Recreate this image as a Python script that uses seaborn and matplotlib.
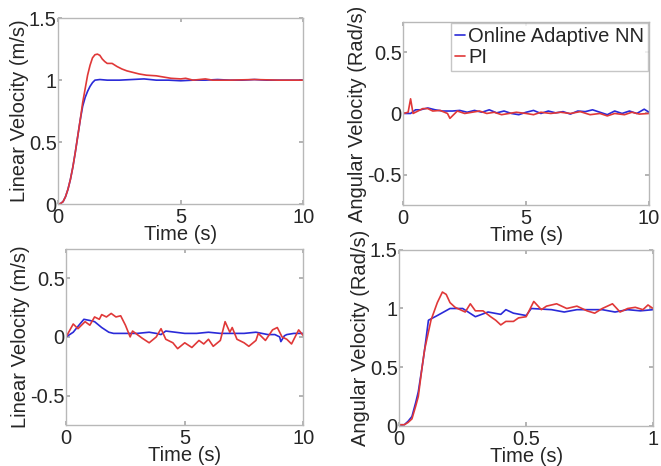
import pandas as pd
import matplotlib
matplotlib.use("Agg")
import matplotlib.pyplot as plt
import seaborn as sns

sns.set_theme(style="white")
plt.rcParams['font.family'] = ['Liberation Sans', 'DejaVu Sans']

NN_COLOR = '#2a2ad8'
PI_COLOR = '#e03838'

# ---- top-left: linear velocity step response (0-10 s)
tl_t_nn = [0, 0.1, 0.2, 0.3, 0.4, 0.5, 0.6, 0.7, 0.8, 0.9, 1.0, 1.1, 1.2, 1.3, 1.4, 1.5,
           1.7, 2.0, 2.5, 3.0, 3.5, 4.0, 4.5, 5.0, 5.5, 6.0, 6.5, 7.0, 7.5, 8.0, 8.5, 9.0, 9.5, 10.0]
tl_v_nn = [0, 0.005, 0.02, 0.06, 0.12, 0.2, 0.3, 0.42, 0.55, 0.68, 0.79, 0.86, 0.91, 0.95, 0.98, 1.0,
           1.005, 1.0, 1.0, 1.005, 1.01, 1.0, 1.0, 0.995, 1.0, 1.0, 1.005, 1.0, 1.0, 1.005, 1.0, 1.0, 1.0, 1.0]
tl_t_pi = [0, 0.1, 0.2, 0.3, 0.4, 0.5, 0.6, 0.7, 0.8, 0.9, 1.0, 1.1, 1.2, 1.3, 1.4, 1.5, 1.6, 1.7,
           1.8, 1.9, 2.0, 2.2, 2.4, 2.6, 2.8, 3.0, 3.3, 3.6, 4.0, 4.3, 4.6, 5.0, 5.2, 5.5, 6.0, 6.3,
           7.0, 8.0, 9.0, 10.0]
tl_v_pi = [0, 0.005, 0.02, 0.06, 0.12, 0.2, 0.3, 0.42, 0.55, 0.68, 0.82, 0.93, 1.04, 1.12, 1.18, 1.205, 1.21, 1.2,
           1.17, 1.15, 1.135, 1.135, 1.11, 1.09, 1.075, 1.065, 1.05, 1.04, 1.035, 1.025, 1.015, 1.01, 1.015, 1.0, 1.01, 1.0,
           1.0, 1.005, 1.0, 1.0]

# ---- top-right: angular velocity (0-10 s)
tr_t_nn = [0, 0.3, 0.5, 0.7, 1.0, 1.3, 1.6, 2.0, 2.3, 2.6, 2.9, 3.2, 3.5, 3.8, 4.1, 4.4, 4.7, 5.0,
           5.3, 5.6, 5.9, 6.2, 6.5, 6.8, 7.1, 7.4, 7.7, 8.0, 8.3, 8.6, 8.9, 9.2, 9.5, 9.8, 10.0]
tr_v_nn = [0, 0.0, 0.03, 0.03, 0.045, 0.03, 0.02, 0.02, 0.025, 0.01, 0.025, 0.01, 0.03, 0.005, 0.02, 0.0, -0.01, 0.01,
           0.025, 0.0, 0.02, 0.005, 0.015, -0.005, 0.02, 0.015, 0.03, 0.01, -0.01, 0.02, 0.0, 0.02, 0.0, 0.035, 0.01]
tr_t_pi = [0, 0.2, 0.3, 0.4, 0.6, 0.8, 1.0, 1.2, 1.5, 1.8, 1.9, 2.0, 2.2, 2.5, 2.8, 3.1, 3.4, 3.7,
           4.0, 4.3, 4.6, 5.0, 5.3, 5.6, 6.0, 6.4, 6.8, 7.2, 7.6, 8.0, 8.3, 8.6, 9.0, 9.3, 9.6, 10.0]
tr_v_pi = [0, 0.01, 0.12, 0.0, 0.02, 0.04, 0.04, 0.02, 0.025, 0.0, -0.04, -0.02, 0.02, 0.0, 0.01, 0.02, 0.0, 0.01,
           -0.01, 0.0, 0.01, 0.0, -0.01, 0.01, 0.0, 0.01, 0.0, 0.015, -0.01, 0.0, -0.02, 0.0, -0.01, 0.01, -0.005, 0.0]

# ---- bottom-left: linear velocity (0-10 s)
bl_t_nn = [0, 0.3, 0.5, 0.75, 1.0, 1.2, 1.5, 1.8, 2.0, 2.5, 3.0, 3.5, 3.8, 4.0, 4.2, 4.6, 5.0, 5.5,
           6.0, 6.5, 7.0, 7.5, 8.0, 8.5, 8.8, 9.0, 9.05, 9.2, 9.3, 9.6, 10.0]
bl_v_nn = [0, 0.04, 0.09, 0.15, 0.14, 0.13, 0.08, 0.04, 0.03, 0.03, 0.03, 0.04, 0.03, 0.02, 0.05, 0.04, 0.03, 0.03,
           0.04, 0.03, 0.03, 0.03, 0.04, 0.02, 0.02, 0.0, -0.04, 0.01, 0.02, 0.03, 0.03]
bl_t_pi = [0, 0.3, 0.5, 0.8, 1.0, 1.2, 1.4, 1.5, 1.7, 1.9, 2.1, 2.3, 2.5, 2.7, 2.8, 3.0, 3.2, 3.5,
           3.8, 4.0, 4.2, 4.5, 4.7, 5.0, 5.3, 5.6, 5.8, 6.0, 6.2, 6.5, 6.7, 6.9, 7.0, 7.2, 7.5, 7.7,
           8.0, 8.1, 8.4, 8.7, 8.9, 9.1, 9.3, 9.5, 9.7, 9.8, 10.0]
bl_v_pi = [0, 0.11, 0.07, 0.13, 0.1, 0.17, 0.15, 0.19, 0.17, 0.2, 0.17, 0.18, 0.1, 0.0, 0.05, 0.02, -0.01, -0.05,
           0.0, 0.07, -0.02, -0.05, -0.1, -0.05, -0.09, -0.03, -0.06, -0.02, -0.08, -0.03, 0.13, 0.04, 0.08, -0.02, -0.05, -0.08,
           -0.03, 0.03, -0.03, 0.06, 0.08, 0.0, -0.02, -0.06, 0.02, 0.06, 0.01]

# ---- bottom-right: angular velocity step response (0-1 s)
br_t_nn = [0, 0.02, 0.035, 0.05, 0.065, 0.075, 0.09, 0.1, 0.115, 0.15, 0.2, 0.25, 0.3, 0.35, 0.4, 0.42,
           0.45, 0.5, 0.52, 0.6, 0.65, 0.7, 0.8, 0.85, 0.9, 0.95, 1.0]
br_v_nn = [0.01, 0.01, 0.04, 0.08, 0.2, 0.29, 0.5, 0.65, 0.9, 0.94, 1.0, 1.0, 0.93, 0.97, 0.95, 0.99,
           0.96, 0.94, 1.0, 0.99, 0.97, 0.99, 0.99, 0.97, 0.99, 0.98, 0.99]
br_t_pi = [0, 0.02, 0.035, 0.05, 0.065, 0.075, 0.09, 0.1, 0.125, 0.15, 0.17, 0.185, 0.2, 0.22, 0.26, 0.28,
           0.3, 0.33, 0.36, 0.38, 0.4, 0.42, 0.45, 0.47, 0.5, 0.53, 0.56, 0.58, 0.62, 0.66, 0.7, 0.74,
           0.77, 0.8, 0.84, 0.87, 0.9, 0.93, 0.96, 0.98, 1.0]
br_v_pi = [0.01, 0.01, 0.03, 0.06, 0.17, 0.25, 0.5, 0.65, 0.9, 1.05, 1.14, 1.12, 1.05, 1.01, 0.97, 1.04,
           0.98, 0.98, 0.93, 0.9, 0.86, 0.89, 0.89, 0.92, 0.93, 1.06, 0.99, 1.02, 1.04, 1.0, 1.02, 0.98,
           0.96, 1.0, 1.04, 0.97, 1.0, 1.01, 0.99, 1.03, 1.0]

FS = 14.5

fig = plt.figure(figsize=(6.61, 4.66), dpi=100)
ax_tl = fig.add_axes([0.088, 0.562, 0.371, 0.399])
ax_tr = fig.add_axes([0.610, 0.560, 0.372, 0.393])
ax_bl = fig.add_axes([0.100, 0.088, 0.359, 0.378])
ax_br = fig.add_axes([0.604, 0.086, 0.384, 0.378])

panels = [
    (ax_tl, tl_t_nn, tl_v_nn, tl_t_pi, tl_v_pi, (0, 10), (0, 1.5), [0, 5, 10], [0, 0.5, 1, 1.5],
     'Linear Velocity (m/s)'),
    (ax_tr, tr_t_nn, tr_v_nn, tr_t_pi, tr_v_pi, (0, 10), (-0.75, 0.75), [0, 5, 10], [-0.5, 0, 0.5],
     'Angular Velocity (Rad/s)'),
    (ax_bl, bl_t_nn, bl_v_nn, bl_t_pi, bl_v_pi, (0, 10), (-0.75, 0.75), [0, 5, 10], [-0.5, 0, 0.5],
     'Linear Velocity (m/s)'),
    (ax_br, br_t_nn, br_v_nn, br_t_pi, br_v_pi, (0, 1), (0, 1.5), [0, 0.5, 1], [0, 0.5, 1, 1.5],
     'Angular Velocity (Rad/s)'),
]

for ax, tn, vn, tp, vp, xlim, ylim, xt, yt, ylab in panels:
    sns.lineplot(x=tn, y=vn, ax=ax, color=NN_COLOR, linewidth=1.2, label='Online Adaptive NN')
    sns.lineplot(x=tp, y=vp, ax=ax, color=PI_COLOR, linewidth=1.2, label='PI')
    ax.set_xlim(*xlim)
    ax.set_ylim(*ylim)
    ax.set_xticks(xt)
    ax.set_xticklabels([f'{v:g}' for v in xt])
    ax.set_yticks(yt)
    ax.set_yticklabels([f'{v:g}' for v in yt])
    ax.tick_params(direction='in', length=3, color='#aaaaaa', labelsize=FS,
                   top=True, right=True, bottom=True, left=True)
    ax.tick_params(axis='y', pad=1)
    ax.tick_params(axis='x', pad=3)
    for sp in ax.spines.values():
        sp.set_color('#b8b8b8')
        sp.set_linewidth(1.0)
    ax.set_xlabel('Time (s)', fontsize=FS, labelpad=-1.5)
    ax.set_ylabel(ylab, fontsize=FS, labelpad=0)
    if ax is ax_tr:
        leg = ax.legend(loc='upper right', fontsize=FS, frameon=True, fancybox=False,
                        handlelength=0.5, handletextpad=0.15, borderpad=0.2,
                        labelspacing=0.1, borderaxespad=0.05)
        leg.get_frame().set_edgecolor('#b8b8b8')
        leg.get_frame().set_linewidth(1.0)
    else:
        ax.get_legend().remove()

fig.savefig('out.png', dpi=100)
